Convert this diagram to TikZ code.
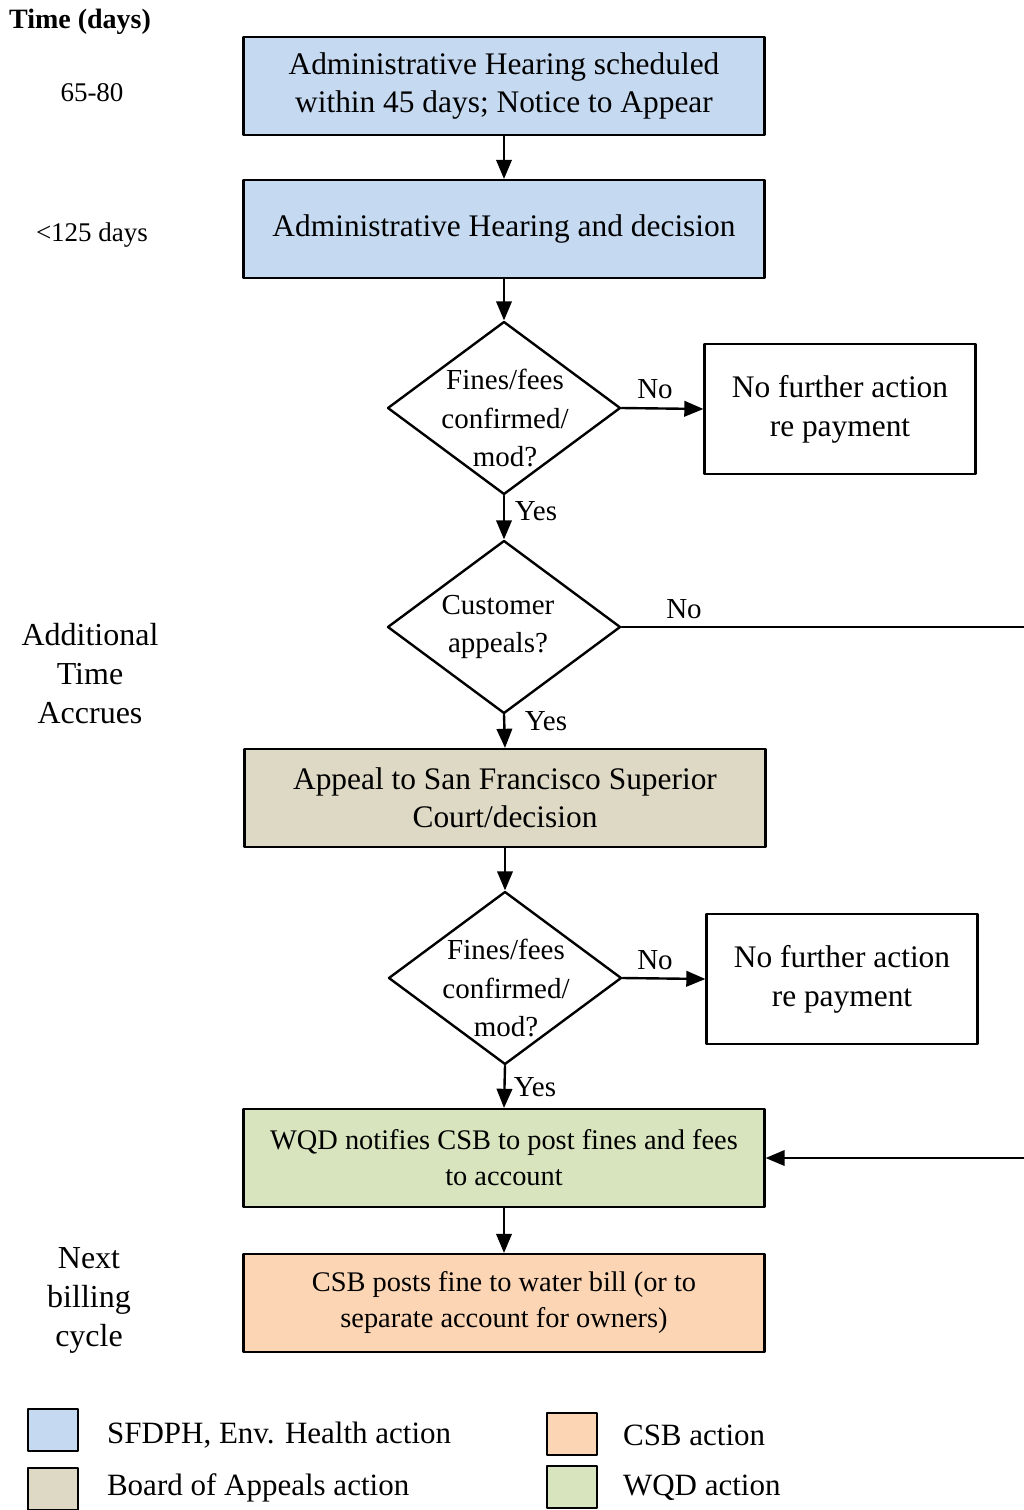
\documentclass[tikz,border=0pt]{standalone}
\usepackage{fontspec}
\setmainfont{Liberation Serif}
\usetikzlibrary{arrows,shapes.geometric}

\definecolor{hlthblue}{RGB}{197,217,241}
\definecolor{appealtan}{RGB}{221,217,196}
\definecolor{wqdgreen}{RGB}{215,228,189}
\definecolor{csborange}{RGB}{252,213,181}

\tikzset{
  actbox/.style={draw=black,line width=1.2pt,minimum width=260.5pt,minimum height=49pt,
    align=center,inner sep=0pt,font=\fontsize{15.7}{19}\selectfont},
  smallbox/.style={actbox,font=\fontsize{14.2}{18}\selectfont},
  nobox/.style={draw=black,line width=1.2pt,minimum width=135.5pt,minimum height=65pt,
    align=center,inner sep=0pt,font=\fontsize{15.7}{19.5}\selectfont},
  query/.style={diamond,draw=black,line width=1.2pt,minimum width=116.5pt,minimum height=86.5pt,
    inner sep=0pt},
  querytext/.style={align=center,inner sep=0pt,font=\fontsize{14.5}{19.3}\selectfont},
  flow/.style={->,line width=1.2pt},
  branch/.style={font=\fontsize{14.5}{17}\selectfont},
  timelbl/.style={align=center,font=\fontsize{16}{19.5}\selectfont},
  keybox/.style={draw=black,line width=1.2pt,minimum width=25pt,minimum height=21pt,inner sep=0pt},
  keytext/.style={anchor=west,font=\fontsize{15.5}{18}\selectfont}
}

\begin{document}
\begin{tikzpicture}[line cap=round,line join=round,>=triangle 45,x=0.5pt,y=-0.5pt]
\useasboundingbox (0,0) rectangle (1023,1510);

% time column
\node[font=\bfseries\fontsize{14}{16}\selectfont] (tdays) at (80,22) {Time (days)};
\node[font=\fontsize{13.5}{16}\selectfont] (t6580) at (92,93) {65-80};
\node[font=\fontsize{13.5}{16}\selectfont] (t125) at (92,235) {<125 days};
\node[timelbl] (taccr) at (90,674) {Additional\\Time\\Accrues};
\node[timelbl] (tbill) at (89,1300) {Next\\billing\\cycle};

% main column
\node[actbox,fill=hlthblue] (notice) at (504,86) {Administrative Hearing scheduled\\within 45 days; Notice to Appear};
\node[actbox,fill=hlthblue] (hearing) at (504,229) {Administrative Hearing and decision};
\node[query] (conf1) at (504,408) {};
\node[querytext] (conf1txt) at (505,418) {Fines/fees\\confirmed/\\mod?};
\node[nobox] (nopay1) at (840,409) {No further action\\re payment};
\node[query] (appeals) at (504,627) {};
\node[querytext] (appealstxt) at (498,627) {Customer\\appeals?};
\node[actbox,fill=appealtan] (court) at (505,798) {Appeal to San Francisco Superior\\Court/decision};
\node[query] (conf2) at (505,978) {};
\node[querytext] (conf2txt) at (506,988) {Fines/fees\\confirmed/\\mod?};
\node[nobox] (nopay2) at (842,979) {No further action\\re payment};
\node[smallbox,fill=wqdgreen] (notify) at (504,1158) {WQD notifies CSB to post fines and fees\\to account};
\node[smallbox,fill=csborange] (post) at (504,1303) {CSB posts fine to water bill (or to\\separate account for owners)};

% connectors
\draw[flow] (notice) -- (hearing);
\draw[flow] (hearing) -- (conf1);
\draw[flow] (conf1.east) -- (nopay1.west);
\draw[flow] (conf1.south) -- (appeals.north);
\draw[flow] (appeals.south) -- (court.north);
\draw[flow] (court) -- (conf2);
\draw[flow] (conf2.east) -- (nopay2.west);
\draw[flow] (conf2.south) -- (notify.north);
\draw[flow] (notify) -- (post);
\coordinate (edgeA) at (1024,627);
\coordinate (edgeB) at (1024,1158);
\draw[line width=1.2pt] (appeals.east) -- (edgeA);
\draw[flow] (edgeB) -- (notify.east);

% branch labels
\node[branch] (no1) at (655,389) {No};
\node[branch] (yes1) at (536,511) {Yes};
\node[branch] (no2) at (684,609) {No};
\node[branch] (yes2) at (546,721) {Yes};
\node[branch] (no3) at (655,960) {No};
\node[branch] (yes3) at (535,1087) {Yes};

% legend
\node[keybox,fill=hlthblue] (keyblue) at (53,1430) {};
\node[keytext] (txtblue) at (100,1435) {SFDPH, Env. Health action};
\node[keybox,fill=appealtan] (keytan) at (53,1489) {};
\node[keytext] (txttan) at (100,1488) {Board of Appeals action};
\node[keybox,fill=csborange] (keyorange) at (572,1434) {};
\node[keytext] (txtorange) at (616,1435) {CSB action};
\node[keybox,fill=wqdgreen] (keygreen) at (572,1487) {};
\node[keytext] (txtgreen) at (616,1488) {WQD action};
\end{tikzpicture}
\end{document}
